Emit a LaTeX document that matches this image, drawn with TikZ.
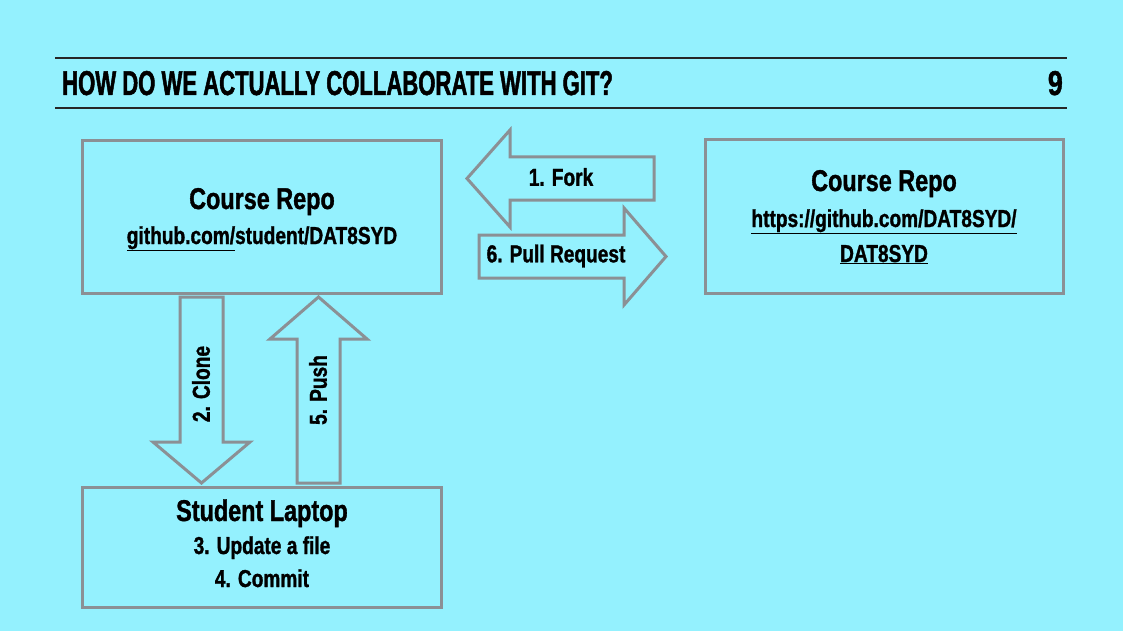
\documentclass[tikz,border=0pt]{standalone}
\usepackage{fontspec}
\setmainfont{Liberation Sans}[FakeStretch=0.78,FakeBold=1.2]
\newfontfamily\titlefont{Liberation Sans}[FakeStretch=0.64,FakeBold=1.4]
\definecolor{slidecyan}{RGB}{148,241,254}
\definecolor{boxgray}{RGB}{139,144,149}
\tikzset{
  repobox/.style={draw=boxgray,line width=3pt,rectangle,inner sep=0pt},
  blockarrow/.style={draw=boxgray,line width=3pt,line join=miter},
  bigtext/.style={font=\bfseries\fontsize{30}{34}\selectfont,inner sep=0pt,anchor=base},
  smalltext/.style={font=\bfseries\fontsize{24.5}{28}\selectfont,inner sep=0pt,anchor=base},
}
\begin{document}
\begin{tikzpicture}[x=1pt,y=-1pt]
    \fill[slidecyan] (0,0) rectangle (1123,631);
    \useasboundingbox (0,0) rectangle (1123,631);
    % title bar
    \draw[line width=1.6pt,black!85] (55,58) -- (1067,58);
    \draw[line width=1.6pt,black!85] (55,108) -- (1067,108);
    \node[font=\titlefont\bfseries\fontsize{34.5}{38}\selectfont,inner sep=0pt,anchor=base west] (title) at (62,95) {HOW DO WE ACTUALLY COLLABORATE WITH GIT?};
    \node[font=\bfseries\fontsize{34.5}{38}\selectfont,inner sep=0pt,anchor=base east] (pagenum) at (1063,95) {9};
    % boxes
    \node[repobox,minimum width=359,minimum height=152] (myrepo) at (261.5,217) {};
    \node[repobox,minimum width=358,minimum height=153] (upstream) at (884,216.5) {};
    \node[repobox,minimum width=359,minimum height=120] (laptop) at (261.5,547) {};
    \node[bigtext] (myrepotitle) at (262,209) {Course Repo};
    \node[smalltext] (myrepourl) at (262,244) {\underline{github.com/}student/DAT8SYD};
    \node[bigtext] (upstreamtitle) at (884,191) {Course Repo};
    \node[smalltext] (upstreamurl) at (884,227) {\underline{https://github.com/DAT8SYD/}};
    \node[smalltext] (upstreamurltwo) at (884,262) {\underline{DAT8SYD}};
    \node[bigtext] (laptoptitle) at (262,521) {Student Laptop};
    \node[smalltext] (laptopedit) at (262,554) {3. Update a file};
    \node[smalltext] (laptopcommit) at (262,587) {4. Commit};
    % block arrows
    \draw[blockarrow] (654,157) -- (510,157) -- (510,130) -- (467,178.5) -- (510,227) -- (510,200) -- (654,200) -- cycle;
    \draw[blockarrow] (479,235) -- (624,235) -- (624,208) -- (666,256.5) -- (624,305) -- (624,278) -- (479,278) -- cycle;
    \draw[blockarrow] (180,297) -- (180,442) -- (153,442) -- (201.5,483) -- (250,442) -- (223,442) -- (223,297) -- cycle;
    \draw[blockarrow] (297,483) -- (297,339) -- (270,339) -- (318.5,297) -- (367,339) -- (340,339) -- (340,483) -- cycle;
    \node[smalltext,anchor=center] (fork) at (561,177) {1. Fork};
    \node[smalltext,anchor=center] (pullreq) at (556,256) {6. Pull Request};
    \node[smalltext,anchor=center,rotate=90] (clone) at (201,384) {2. Clone};
    \node[smalltext,anchor=center,rotate=90] (push) at (318,390) {5. Push};
\end{tikzpicture}
\end{document}
